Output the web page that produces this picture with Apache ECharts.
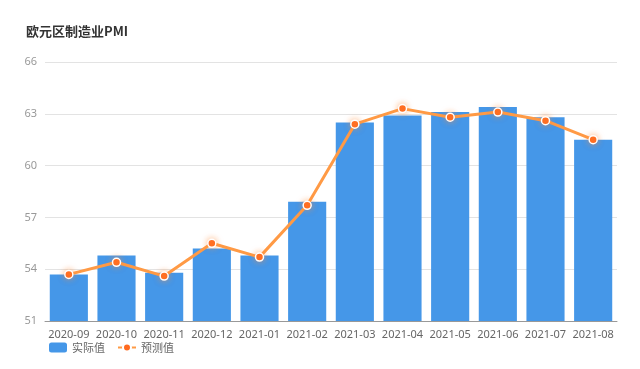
<!DOCTYPE html>
<html>
<head>
<meta charset="utf-8">
<script src="https://cdn.jsdelivr.net/npm/echarts@6/dist/echarts.min.js"></script>
<style>
html,body{margin:0;padding:0;background:#fff;}
#chart{width:640px;height:369px;}
</style>
</head>
<body>
<div id="chart"></div>
<script>
// 欧元区制造业PMI
var months = ['2020-09','2020-10','2020-11','2020-12','2021-01','2021-02','2021-03','2021-04','2021-05','2021-06','2021-07','2021-08'];
var actual = [53.7, 54.8, 53.8, 55.2, 54.8, 57.9, 62.5, 62.9, 63.1, 63.4, 62.8, 61.5];
var forecast = [53.7, 54.4, 53.6, 55.5, 54.7, 57.7, 62.4, 63.3, 62.8, 63.1, 62.6, 61.5];

var chart = echarts.init(document.getElementById('chart'));
var option = {
    animation: false,
    textStyle: {fontFamily: 'Noto Sans, Noto Sans CJK SC'},
    title: {
        text: '欧元区制造业PMI',
        left: 21,
        top: 20,
        textStyle: {
            fontSize: 13,
            fontWeight: 'bold',
            color: '#333',
            fontFamily: 'Noto Sans CJK SC'
        }
    },
    legend: {
        left: 44,
        bottom: 11,
        itemWidth: 18,
        itemHeight: 10,
        itemGap: 12,
        textStyle: {fontSize: 11, color: '#666', fontFamily: 'Noto Sans CJK SC'},
        data: [
            {name: '实际值', icon: 'roundRect'},
            {name: '预测值'}
        ]
    },
    grid: {left: 45, right: 23, top: 62, bottom: 48},
    xAxis: {
        type: 'category',
        data: months,
        axisTick: {show: false},
        axisLine: {lineStyle: {color: '#999'}},
        axisLabel: {color: '#666', fontSize: 11, margin: 8, interval: 0}
    },
    yAxis: {
        type: 'value',
        min: 51,
        max: 66,
        interval: 3,
        axisLine: {show: false},
        axisTick: {show: false},
        axisLabel: {color: '#999', fontSize: 11, margin: 8},
        splitLine: {lineStyle: {color: '#e3e3e3'}}
    },
    series: [
        {
            name: '实际值',
            type: 'bar',
            data: actual,
            barCategoryGap: '20%',
            itemStyle: {color: '#4597e8'}
        },
        {
            name: '预测值',
            type: 'line',
            data: forecast,
            symbol: 'circle',
            symbolSize: 8,
            lineStyle: {color: '#ff9a45', width: 3},
            itemStyle: {
                color: '#ff6a1f',
                borderColor: '#fff',
                borderWidth: 1.5,
                shadowColor: 'rgba(255,140,60,0.6)',
                shadowBlur: 6
            }
        }
    ]
};
chart.setOption(option);
</script>
</body>
</html>
